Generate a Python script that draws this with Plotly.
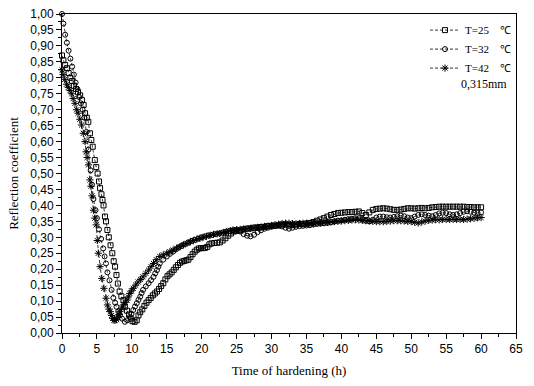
import plotly.graph_objects as go

# ---- data ----
t25 = [0, 0.2, 0.45, 0.7, 0.95, 1.2, 1.45, 1.7, 2.0, 2.3, 2.6, 2.85, 3.1, 3.3, 3.55, 3.77, 4.0, 4.2, 4.4, 4.7, 4.9, 5.1, 5.3, 5.45, 5.65, 5.8, 5.95, 6.15, 6.3, 6.5, 6.7, 6.95, 7.2, 7.4, 7.6, 7.8, 8.0, 8.25, 8.5, 8.8, 9.0, 9.3, 9.6, 9.85, 10.1, 10.4, 10.7, 10.95, 11.2, 11.5, 11.8, 12.1, 12.4, 12.7, 13.0, 13.3, 13.6, 13.9, 14.2, 14.5, 14.8, 15.1, 15.4, 15.7, 16.0, 16.3, 16.6, 16.9, 17.2, 17.5, 17.8, 18.1, 18.4, 18.7, 19.0, 19.3, 19.6, 19.9, 20.2, 20.5, 20.8, 21.1, 21.4, 21.8, 22.2, 22.6, 23.0, 23.4, 23.8, 24.2, 24.6, 25.0, 25.5, 26.0, 26.5, 27.0, 27.5, 28.0, 28.5, 29.0, 29.5, 30.0, 30.5, 31.0, 31.5, 32.0, 32.5, 33.0, 33.5, 34.0, 34.5, 35.0, 35.5, 36.0, 36.5, 37.0, 37.5, 38.0, 38.5, 39.0, 39.5, 40.0, 40.5, 41.0, 41.5, 42.0, 42.5, 43.0, 43.5, 44.0, 44.5, 45.0, 45.5, 46.0, 46.5, 47.0, 47.5, 48.0, 48.5, 49.0, 49.5, 50.0, 50.5, 51.0, 51.5, 52.0, 52.5, 53.0, 53.5, 54.0, 54.5, 55.0, 55.5, 56.0, 56.5, 57.0, 57.5, 58.0, 58.5, 59.0, 59.5, 60.0]
r25 = [0.87, 0.855, 0.84, 0.83, 0.815, 0.80, 0.79, 0.775, 0.765, 0.755, 0.745, 0.73, 0.715, 0.689, 0.675, 0.662, 0.626, 0.605, 0.584, 0.542, 0.52, 0.50, 0.475, 0.454, 0.435, 0.417, 0.40, 0.365, 0.35, 0.323, 0.30, 0.275, 0.25, 0.225, 0.208, 0.182, 0.155, 0.13, 0.115, 0.103, 0.082, 0.07, 0.058, 0.045, 0.037, 0.035, 0.04, 0.055, 0.065, 0.074, 0.085, 0.095, 0.103, 0.11, 0.118, 0.124, 0.13, 0.138, 0.147, 0.156, 0.168, 0.178, 0.184, 0.19, 0.198, 0.206, 0.213, 0.22, 0.224, 0.226, 0.228, 0.23, 0.238, 0.247, 0.255, 0.261, 0.265, 0.266, 0.266, 0.267, 0.27, 0.278, 0.281, 0.282, 0.283, 0.284, 0.29, 0.297, 0.305, 0.312, 0.318, 0.32, 0.322, 0.325, 0.327, 0.328, 0.33, 0.331, 0.332, 0.333, 0.335, 0.336, 0.337, 0.338, 0.34, 0.34, 0.34, 0.339, 0.34, 0.342, 0.341, 0.343, 0.345, 0.348, 0.352, 0.356, 0.36, 0.365, 0.37, 0.373, 0.376, 0.377, 0.378, 0.379, 0.379, 0.38, 0.381, 0.376, 0.37, 0.378, 0.386, 0.389, 0.39, 0.391, 0.39, 0.388, 0.386, 0.386, 0.387, 0.389, 0.391, 0.391, 0.39, 0.391, 0.392, 0.391, 0.392, 0.394, 0.395, 0.396, 0.396, 0.396, 0.396, 0.396, 0.396, 0.396, 0.396, 0.395, 0.395, 0.394, 0.394, 0.394]

t32 = [0, 0.2, 0.45, 0.7, 0.95, 1.2, 1.45, 1.7, 1.95, 2.2, 2.45, 2.7, 2.95, 3.2, 3.5, 3.8, 4.1, 4.3, 4.5, 4.8, 5.0, 5.3, 5.6, 5.9, 6.1, 6.3, 6.5, 6.8, 7.1, 7.35, 7.6, 7.8, 8.05, 8.3, 8.6, 9.0, 9.35, 9.7, 9.95, 10.2, 10.45, 10.7, 10.95, 11.2, 11.4, 11.6, 12.0, 12.4, 12.75, 13.1, 13.35, 13.6, 13.8, 14.0, 14.5, 15.0, 15.45, 15.9, 16.3, 16.7, 17.1, 17.5, 18.0, 18.5, 19.0, 19.5, 20.0, 20.5, 21.0, 21.5, 22.0, 22.5, 23.0, 23.5, 24.0, 24.5, 25.0, 25.5, 26.0, 26.5, 27.0, 27.5, 28.0, 28.5, 29.0, 29.5, 30.0, 30.5, 31.0, 31.5, 32.0, 32.5, 33.0, 33.5, 34.0, 34.5, 35.0, 35.5, 36.0, 36.5, 37.0, 37.5, 38.0, 38.5, 39.0, 39.5, 40.0, 40.5, 41.0, 41.5, 42.0, 42.5, 43.0, 43.5, 44.0, 44.5, 45.0, 45.5, 46.0, 46.5, 47.0, 47.5, 48.0, 48.5, 49.0, 49.5, 50.0, 50.5, 51.0, 51.5, 52.0, 52.5, 53.0, 53.5, 54.0, 54.5, 55.0, 55.5, 56.0, 56.5, 57.0, 57.5, 58.0, 58.5, 59.0, 59.5, 60.0]
r32 = [1.00, 0.97, 0.935, 0.91, 0.885, 0.86, 0.835, 0.81, 0.785, 0.765, 0.74, 0.72, 0.70, 0.675, 0.63, 0.575, 0.51, 0.465, 0.42, 0.385, 0.36, 0.325, 0.295, 0.265, 0.24, 0.218, 0.19, 0.165, 0.135, 0.11, 0.095, 0.082, 0.068, 0.056, 0.045, 0.035, 0.04, 0.05, 0.06, 0.072, 0.083, 0.093, 0.104, 0.114, 0.125, 0.135, 0.146, 0.156, 0.166, 0.176, 0.187, 0.197, 0.208, 0.218, 0.23, 0.24, 0.248, 0.255, 0.262, 0.268, 0.273, 0.278, 0.283, 0.288, 0.292, 0.296, 0.30, 0.303, 0.306, 0.308, 0.31, 0.312, 0.315, 0.318, 0.32, 0.322, 0.323, 0.318, 0.31, 0.305, 0.303, 0.308, 0.316, 0.322, 0.327, 0.33, 0.333, 0.335, 0.336, 0.334, 0.33, 0.327, 0.33, 0.333, 0.335, 0.336, 0.337, 0.338, 0.34, 0.342, 0.343, 0.344, 0.345, 0.347, 0.35, 0.352, 0.353, 0.355, 0.357, 0.358, 0.36, 0.36, 0.357, 0.352, 0.35, 0.355, 0.362, 0.365, 0.365, 0.363, 0.362, 0.364, 0.366, 0.368, 0.366, 0.362, 0.36, 0.365, 0.37, 0.372, 0.37, 0.368, 0.366, 0.37, 0.375, 0.377, 0.376, 0.372, 0.37, 0.372, 0.376, 0.38, 0.382, 0.38, 0.377, 0.376, 0.378]

t42 = [0, 0.15, 0.4, 0.65, 0.9, 1.15, 1.4, 1.6, 1.86, 2.1, 2.3, 2.55, 2.8, 3.05, 3.3, 3.45, 3.6, 3.8, 4.0, 4.15, 4.3, 4.5, 4.7, 4.9, 5.05, 5.2, 5.45, 5.7, 6.0, 6.3, 6.5, 6.7, 6.9, 7.1, 7.25, 7.45, 7.6, 7.8, 8.05, 8.2, 8.3, 8.55, 8.8, 9.05, 9.3, 9.5, 9.7, 9.95, 10.2, 10.55, 10.9, 11.25, 11.6, 12.0, 12.4, 12.75, 13.1, 13.5, 14.0, 14.5, 15.0, 15.45, 15.9, 16.4, 16.9, 17.4, 17.9, 18.4, 18.8, 19.3, 19.75, 20.2, 20.7, 21.2, 21.7, 22.2, 22.6, 23.1, 23.6, 24.1, 24.5, 25.0, 25.5, 26.0, 26.5, 27.0, 27.5, 28.0, 28.5, 29.0, 29.5, 30.0, 30.5, 31.0, 31.5, 32.0, 32.5, 33.0, 33.5, 34.0, 34.5, 35.0, 35.5, 36.0, 36.5, 37.0, 37.5, 38.0, 38.5, 39.0, 39.5, 40.0, 40.5, 41.0, 41.5, 42.0, 42.5, 43.0, 43.5, 44.0, 44.5, 45.0, 45.5, 46.0, 46.5, 47.0, 47.5, 48.0, 48.5, 49.0, 49.5, 50.0, 50.5, 51.0, 51.5, 52.0, 52.5, 53.0, 53.5, 54.0, 54.5, 55.0, 55.5, 56.0, 56.5, 57.0, 57.5, 58.0, 58.5, 59.0, 59.5, 60.0]
r42 = [0.825, 0.81, 0.795, 0.78, 0.77, 0.76, 0.75, 0.735, 0.72, 0.70, 0.689, 0.67, 0.652, 0.626, 0.60, 0.568, 0.55, 0.527, 0.48, 0.46, 0.43, 0.385, 0.36, 0.339, 0.29, 0.25, 0.208, 0.171, 0.14, 0.109, 0.088, 0.075, 0.067, 0.055, 0.046, 0.04, 0.04, 0.042, 0.05, 0.058, 0.067, 0.078, 0.088, 0.096, 0.103, 0.113, 0.124, 0.132, 0.14, 0.15, 0.16, 0.168, 0.176, 0.187, 0.197, 0.208, 0.218, 0.23, 0.24, 0.245, 0.25, 0.255, 0.26, 0.266, 0.271, 0.276, 0.281, 0.286, 0.29, 0.294, 0.297, 0.30, 0.303, 0.306, 0.309, 0.311, 0.312, 0.315, 0.318, 0.321, 0.323, 0.324, 0.325, 0.326, 0.327, 0.328, 0.33, 0.331, 0.332, 0.334, 0.335, 0.337, 0.339, 0.341, 0.343, 0.344, 0.344, 0.343, 0.342, 0.343, 0.344, 0.344, 0.343, 0.344, 0.345, 0.345, 0.346, 0.347, 0.348, 0.349, 0.35, 0.351, 0.352, 0.353, 0.354, 0.355, 0.354, 0.353, 0.352, 0.351, 0.35, 0.349, 0.349, 0.349, 0.35, 0.351, 0.352, 0.352, 0.352, 0.351, 0.35, 0.349, 0.347, 0.345, 0.348, 0.351, 0.353, 0.354, 0.355, 0.355, 0.356, 0.356, 0.356, 0.356, 0.356, 0.356, 0.356, 0.357, 0.358, 0.36, 0.361, 0.362]

NB = "\u00a0"
series_names = ["T=25" + NB * 4 + "\u2103", "T=32" + NB * 4 + "\u2103", "T=42" + NB * 4 + "\u2103"]
note_text = "0,315mm"
x_title = "Time of hardening (h)"
y_title = "Reflection coefficient"

SERIF = "Liberation Serif, Times New Roman, serif"
SANS = "Liberation Sans, Arial, sans-serif"

fig = go.Figure()
styles = [("square-open", 5), ("circle-open", 5), ("asterisk-open", 6)]
for (t, r), name, (sym, sz) in zip([(t25, r25), (t32, r32), (t42, r42)], series_names, styles):
    fig.add_trace(go.Scatter(
        x=t, y=r, name=name, mode="lines+markers", cliponaxis=False,
        line=dict(color="black", width=0.8, dash="3px,2px"),
        marker=dict(symbol=sym, size=sz, color="black", line=dict(color="black", width=1)),
    ))

axis_common = dict(
    showgrid=False, zeroline=False, showline=True, linecolor="black", linewidth=1,
    mirror=True, ticks="outside", ticklen=5, tickcolor="black", tickwidth=1,
    automargin=False,
    tickfont=dict(family=SANS, size=12, color="black"),
)
fig.update_xaxes(range=[0, 65], tick0=0, dtick=5, tickformat="d",
                 minor=dict(ticks="outside", ticklen=3, dtick=2.5, tickcolor="black"),
                 title=dict(text=x_title, font=dict(family=SERIF, size=13, color="black"), standoff=10),
                 **axis_common)
fig.update_yaxes(range=[0, 1.0], tick0=0, dtick=0.05, tickformat=".2f",
                 minor=dict(ticks="outside", ticklen=3, dtick=0.025, tickcolor="black"),
                 title=dict(text=y_title, font=dict(family=SERIF, size=13, color="black"), standoff=8),
                 **axis_common)

fig.add_annotation(x=0.985, y=0.782, xref="paper", yref="paper", text=note_text,
                   showarrow=False, xanchor="right", yanchor="middle",
                   font=dict(family=SERIF, size=12, color="black"))

fig.update_layout(
    width=534, height=386, separators=", ",
    paper_bgcolor="white", plot_bgcolor="white",
    margin=dict(l=62, r=18, t=14, b=53, autoexpand=False),
    legend=dict(x=1.0, xanchor="right", y=0.995, yanchor="top", bgcolor="rgba(0,0,0,0)",
                font=dict(family=SERIF, size=11, color="black"), itemwidth=30,
                tracegroupgap=0),
    showlegend=True,
)
fig.write_html("out.html", config={"displayModeBar": False},
               post_script="document.body.style.margin='0';document.body.style.overflow='hidden';")
